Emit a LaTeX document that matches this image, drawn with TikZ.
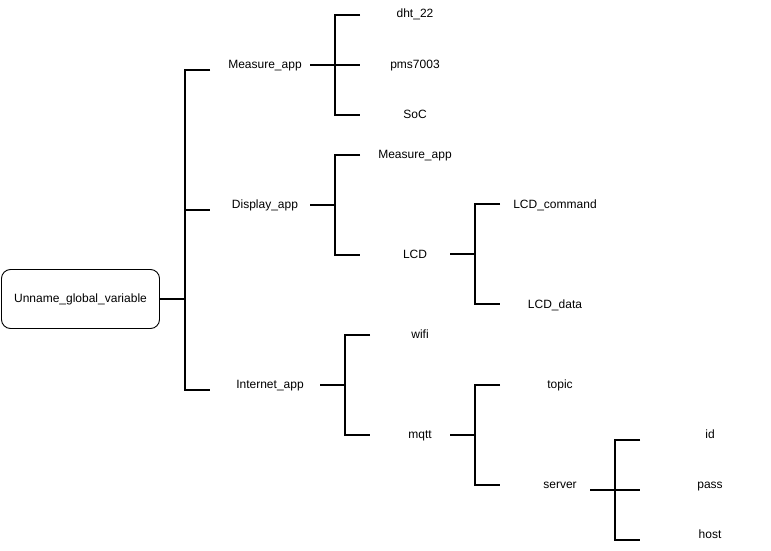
\documentclass[tikz,border=0pt]{standalone}
\usepackage{fontspec}
\setmainfont{Liberation Sans}
\begin{document}
\begin{tikzpicture}[x=1pt,y=-1pt,
  lbl/.style={font=\fontsize{12}{14}\selectfont, inner sep=0pt, text height=8.6pt, text depth=2.6pt},
  rootbox/.style={draw, line width=0.9pt, rounded corners=9pt, minimum width=158pt, minimum height=59pt, inner sep=0pt, text height=8.6pt, text depth=2.6pt, font=\fontsize{12}{14}\selectfont},
  stem/.style={line width=1.3pt},
  brk/.style={line width=2pt}]
\useasboundingbox (0,0) rectangle (771,551);
% nodes
\node[rootbox] (root) at (80.5,299) {Unname\_global\_variable};
\node[lbl] (meas) at (265,65) {Measure\_app};
\node[lbl] (disp) at (265,205) {Display\_app};
\node[lbl] (inet) at (270,385) {Internet\_app};
\node[lbl] (dht) at (415,15) {dht\_22};
\node[lbl] (pms) at (415,65) {pms7003};
\node[lbl] (soc) at (415,115) {SoC};
\node[lbl] (meas2) at (415,155) {Measure\_app};
\node[lbl] (lcd) at (415,255) {LCD};
\node[lbl] (lcdc) at (555,205) {LCD\_command};
\node[lbl] (lcdd) at (555,305) {LCD\_data};
\node[lbl] (wifi) at (420,335) {wifi};
\node[lbl] (mqtt) at (420,435) {mqtt};
\node[lbl] (topic) at (560,385) {topic};
\node[lbl] (server) at (560,485) {server};
\node[lbl] (id) at (710,435) {id};
\node[lbl] (pass) at (710,485) {pass};
\node[lbl] (host) at (710,535) {host};
% root bracket
\coordinate (rS) at (185,299);
\coordinate (rT) at (185,70);
\coordinate (rM) at (185,210);
\coordinate (rB) at (185,390);
\coordinate (rA1) at (210,70);
\coordinate (rA2) at (210,210);
\coordinate (rA3) at (210,390);
\draw[stem] (root.east |- rS) -- (rS);
\draw[brk] (rA1) -- (rT) -- (rB) -- (rA3);
\draw[brk] (rM) -- (rA2);
% measure bracket
\coordinate (mO) at (310,65);
\coordinate (mS) at (335,65);
\coordinate (mT) at (335,15);
\coordinate (mB) at (335,115);
\coordinate (mA1) at (360,15);
\coordinate (mA2) at (360,65);
\coordinate (mA3) at (360,115);
\draw[stem] (mO) -- (mS);
\draw[brk] (mA1) -- (mT) -- (mB) -- (mA3);
\draw[brk] (mS) -- (mA2);
% display bracket
\coordinate (dO) at (310,205);
\coordinate (dS) at (335,205);
\coordinate (dT) at (335,155);
\coordinate (dB) at (335,255);
\coordinate (dA1) at (360,155);
\coordinate (dA2) at (360,255);
\draw[stem] (dO) -- (dS);
\draw[brk] (dA1) -- (dT) -- (dB) -- (dA2);
% LCD bracket
\coordinate (lO) at (450,254);
\coordinate (lS) at (475,254);
\coordinate (lT) at (475,204);
\coordinate (lB) at (475,304);
\coordinate (lA1) at (500,204);
\coordinate (lA2) at (500,304);
\draw[stem] (lO) -- (lS);
\draw[brk] (lA1) -- (lT) -- (lB) -- (lA2);
% internet bracket
\coordinate (iO) at (320,385);
\coordinate (iS) at (345,385);
\coordinate (iT) at (345,335);
\coordinate (iB) at (345,435);
\coordinate (iA1) at (370,335);
\coordinate (iA2) at (370,435);
\draw[stem] (iO) -- (iS);
\draw[brk] (iA1) -- (iT) -- (iB) -- (iA2);
% mqtt bracket
\coordinate (qO) at (450,435);
\coordinate (qS) at (475,435);
\coordinate (qT) at (475,385);
\coordinate (qB) at (475,485);
\coordinate (qA1) at (500,385);
\coordinate (qA2) at (500,485);
\draw[stem] (qO) -- (qS);
\draw[brk] (qA1) -- (qT) -- (qB) -- (qA2);
% server bracket
\coordinate (sO) at (590,490);
\coordinate (sS) at (615,490);
\coordinate (sT) at (615,440);
\coordinate (sB) at (615,540);
\coordinate (sA1) at (640,440);
\coordinate (sA2) at (640,490);
\coordinate (sA3) at (640,540);
\draw[stem] (sO) -- (sS);
\draw[brk] (sA1) -- (sT) -- (sB) -- (sA3);
\draw[brk] (sS) -- (sA2);
\end{tikzpicture}
\end{document}
